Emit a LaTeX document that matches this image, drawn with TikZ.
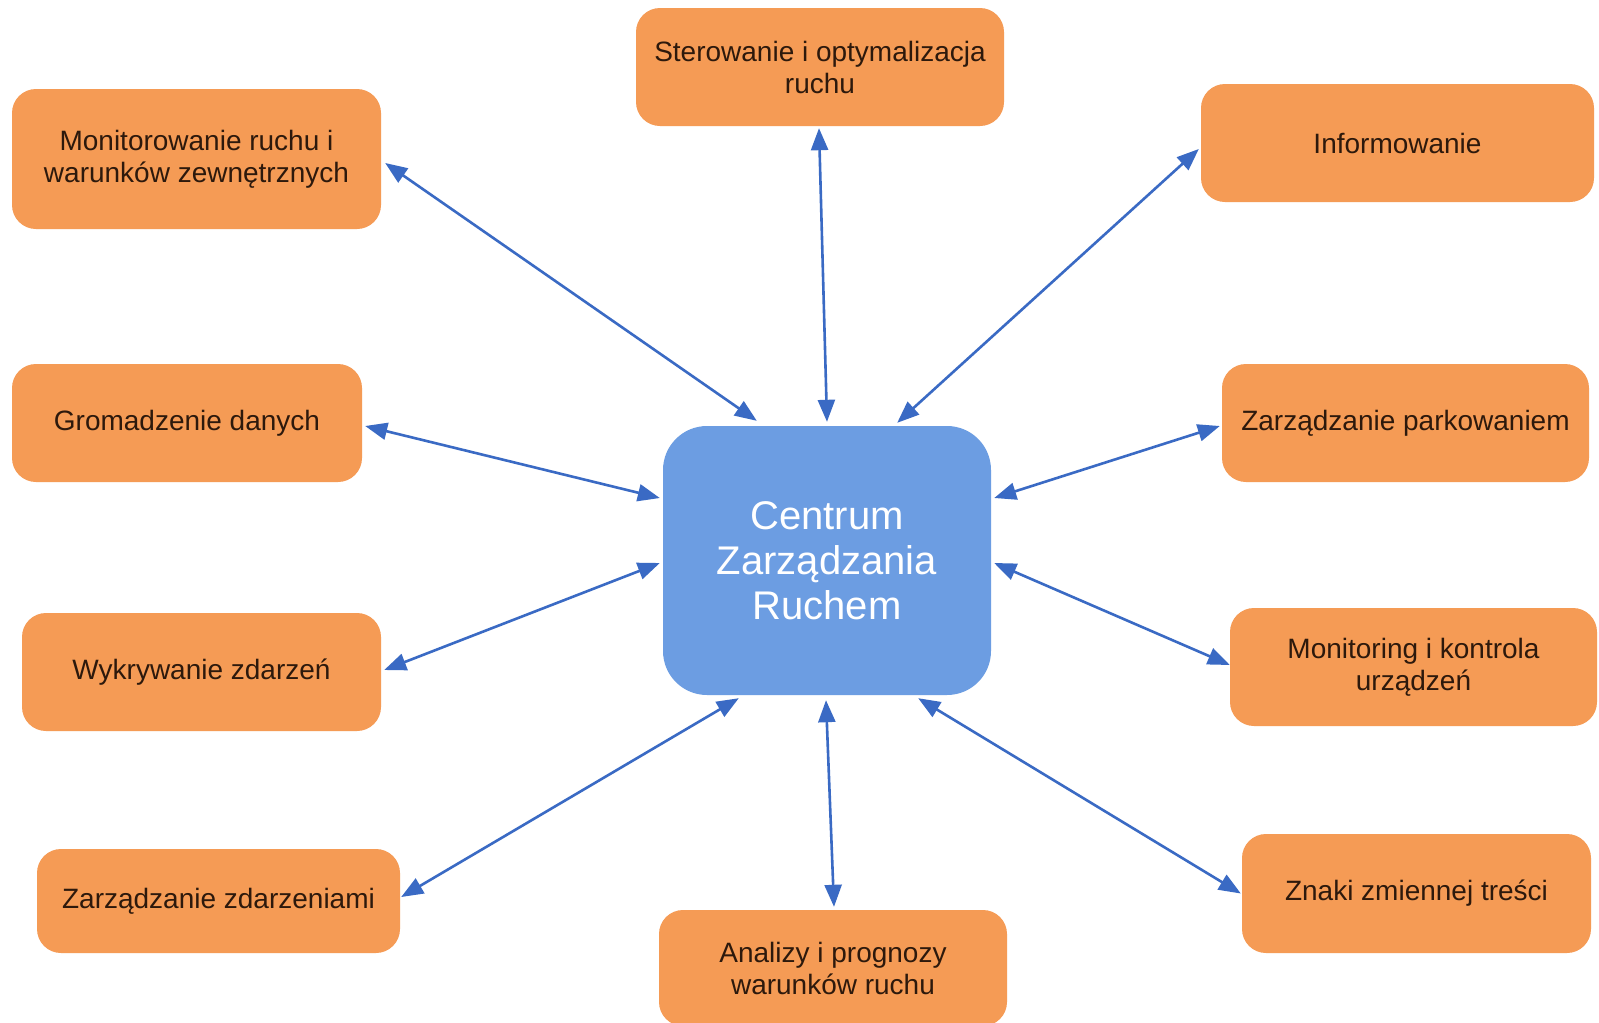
\documentclass[tikz,border=0pt]{standalone}
\usepackage{fontspec}
\setmainfont{Liberation Sans}
\usetikzlibrary{arrows.meta,calc}
\definecolor{boxorange}{RGB}{245,155,85}
\definecolor{boxblue}{RGB}{108,157,226}
\definecolor{arrowblue}{RGB}{58,106,196}
\definecolor{txtdark}{RGB}{45,25,12}
\begin{document}
\begin{tikzpicture}[x=1pt,y=-1pt,
  obox/.style={fill=boxorange,draw=none,rounded corners=24pt,align=center,
    text=txtdark,font=\fontsize{28}{32}\selectfont,inner sep=0pt},
  cbox/.style={fill=boxblue,draw=none,rounded corners=44pt,align=center,
    text=white,font=\fontsize{40}{45}\selectfont,inner sep=0pt},
  arr/.style={draw=arrowblue,line width=2.6pt,
    {Triangle[length=22pt,width=17pt]}-{Triangle[length=22pt,width=17pt]}}]
\useasboundingbox[fill=white] (0,0) rectangle (1599,1023);
% nodes
\node[obox,minimum width=369pt,minimum height=140pt] (mon) at (196.5,159) {Monitorowanie ruchu i\\warunków zewnętrznych};
\node[obox,minimum width=368pt,minimum height=118pt] (ster) at (820,67) {Sterowanie i optymalizacja\\ruchu};
\node[obox,minimum width=393pt,minimum height=118pt] (inf) at (1397.5,143) {Informowanie};
\node[obox,minimum width=350pt,minimum height=118pt] (grom) at (187,423) {Gromadzenie danych};
\node[obox,minimum width=367pt,minimum height=118pt] (park) at (1405.5,423) {Zarządzanie parkowaniem};
\node[cbox,minimum width=328pt,minimum height=269pt] (cen) at (827,560.5) {Centrum\\Zarządzania\\Ruchem};
\node[obox,minimum width=359pt,minimum height=118pt] (wyk) at (201.5,672) {Wykrywanie zdarzeń};
\node[obox,minimum width=367pt,minimum height=118pt] (moni) at (1413.5,667) {Monitoring i kontrola\\urządzeń};
\node[obox,minimum width=363pt,minimum height=104pt] (zz) at (218.5,901) {Zarządzanie zdarzeniami};
\node[obox,minimum width=349pt,minimum height=119pt] (zn) at (1416.5,893.5) {Znaki zmiennej treści};
\node[obox,minimum width=348pt,minimum height=116pt] (an) at (833,968) {Analizy i prognozy\\warunków ruchu};
% connectors
\draw[arr] ([shift={(4,4)}]mon.east) -- ([shift={(94,-5)}]cen.north west);
\draw[arr] ([shift={(-1,2)}]ster.south) -- ([shift={(0,-4)}]cen.north);
\draw[arr] ([shift={(-2,6)}]inf.west) -- ([shift={(-94,-3)}]cen.north east);
\draw[arr] ([shift={(3,3)}]grom.east) -- ([shift={(-3,-62.5)}]cen.west);
\draw[arr] ([shift={(-2,3)}]park.west) -- ([shift={(3,-62.5)}]cen.east);
\draw[arr] ([shift={(3,-2)}]wyk.east) -- ([shift={(-3,2.5)}]cen.west);
\draw[arr] ([shift={(0,-2)}]moni.west) -- ([shift={(3,2.5)}]cen.east);
\draw[arr] ([shift={(1,-4)}]zz.east) -- ([shift={(76,3)}]cen.south west);
\draw[arr] ([shift={(1,-3)}]an.north) -- ([shift={(-1,5)}]cen.south);
\draw[arr] ([shift={(-1,0)}]zn.west) -- ([shift={(-73,3)}]cen.south east);
\end{tikzpicture}
\end{document}
